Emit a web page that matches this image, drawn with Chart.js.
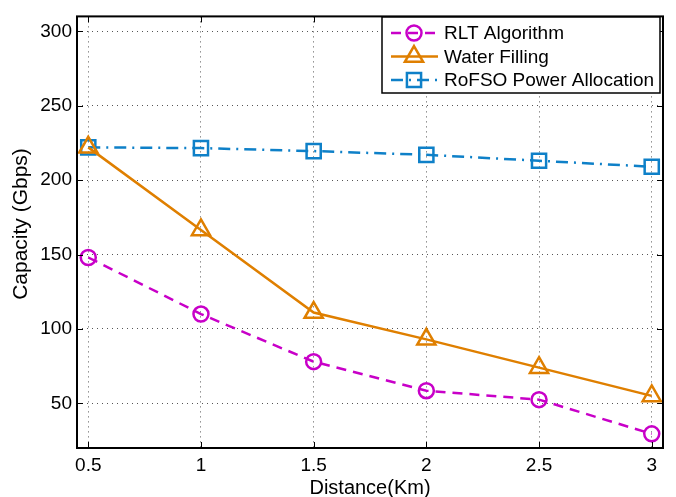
<!DOCTYPE html>
<html>
<head>
<meta charset="utf-8">
<script src="https://cdn.jsdelivr.net/npm/chart.js@4.4.1/dist/chart.umd.min.js"></script>
<style>
  html, body { margin: 0; padding: 0; background: #fff; }
  #wrap { width: 676px; height: 497px; }
</style>
</head>
<body>
<div id="wrap"><canvas id="capChart" width="676" height="497"></canvas></div>
<script>
// distance in km
const distances = [0.5, 1, 1.5, 2, 2.5, 3];
const rltValues = [148, 110, 78, 58.5, 52.5, 29.5];
const waterValues = [222, 166.5, 111, 93, 74, 55];
const rofsoValues = [222, 221.5, 219.5, 217, 213, 209];
const xTicks = [0.5, 1, 1.5, 2, 2.5, 3];
const yTicks = [50, 100, 150, 200, 250, 300];

const FONT = 'Liberation Sans, Arial, Helvetica, sans-serif';

function toPoints(vals) {
    return distances.map((d, i) => ({ x: d, y: vals[i] }));
}

// caja, marcas hacia dentro, titulo Y y leyenda estilo MATLAB
const matlabBox = {
    id: 'matlabBox',
    afterDatasetsDraw(chart) {
        const ctx = chart.ctx;
        const a = chart.chartArea;
        const xs = chart.scales.x, ys = chart.scales.y;
        ctx.save();
        ctx.strokeStyle = '#000';
        ctx.lineWidth = 1;
        xTicks.forEach(t => {
            const px = Math.round(xs.getPixelForValue(t)) + 0.5;
            ctx.beginPath();
            ctx.moveTo(px, a.bottom); ctx.lineTo(px, a.bottom - 6);
            ctx.moveTo(px, a.top); ctx.lineTo(px, a.top + 6);
            ctx.stroke();
        });
        yTicks.forEach(t => {
            const py = Math.round(ys.getPixelForValue(t)) + 0.5;
            ctx.beginPath();
            ctx.moveTo(a.left, py); ctx.lineTo(a.left + 6, py);
            ctx.moveTo(a.right, py); ctx.lineTo(a.right - 6, py);
            ctx.stroke();
        });
        ctx.lineWidth = 2;
        ctx.strokeRect(a.left, a.top, a.right - a.left, a.bottom - a.top);

        // titulo del eje Y
        ctx.save();
        ctx.translate(21, 224);
        ctx.rotate(-Math.PI / 2);
        ctx.fillStyle = '#000';
        ctx.font = '21px ' + FONT;
        ctx.textAlign = 'center';
        ctx.textBaseline = 'middle';
        ctx.fillText('Capacity (Gbps)', 0, 0);
        ctx.restore();

        // leyenda
        const lx = 382, ly = 17, lw = 278, lh = 76;
        ctx.fillStyle = '#fff';
        ctx.fillRect(lx, ly, lw, lh);
        ctx.lineWidth = 1.5;
        ctx.strokeRect(lx, ly, lw, lh);
        chart.data.datasets.forEach((ds, i) => {
            const y = 33 + i * 23.5;
            ctx.save();
            ctx.strokeStyle = ds.borderColor;
            ctx.lineWidth = ds.borderWidth;
            ctx.setLineDash(ds.borderDash || []);
            ctx.beginPath();
            ctx.moveTo(391, y); ctx.lineTo(438, y);
            ctx.stroke();
            ctx.setLineDash([]);
            ctx.fillStyle = 'rgba(0,0,0,0)';
            ctx.strokeStyle = ds.pointBorderColor;
            ctx.lineWidth = ds.pointBorderWidth;
            Chart.helpers.drawPoint(ctx, {
                pointStyle: ds.pointStyle,
                radius: ds.pointRadius,
                borderWidth: ds.pointBorderWidth,
                rotation: 0
            }, 414, y);
            ctx.restore();
            ctx.fillStyle = '#000';
            ctx.font = '19px ' + FONT;
            ctx.textBaseline = 'middle';
            ctx.textAlign = 'left';
            ctx.fillText(ds.label, 444, y + 1);
        });
        ctx.restore();
    }
};

const ctx = document.getElementById('capChart').getContext('2d');
new Chart(ctx, {
    type: 'line',
    data: {
        datasets: [{
            label: 'RLT Algorithm',
            data: toPoints(rltValues),
            borderColor: '#c800c8',
            borderWidth: 2.5,
            borderDash: [10, 7],
            pointStyle: 'circle',
            pointRadius: 7.5,
            pointBorderWidth: 2.5,
            pointBorderColor: '#c800c8',
            pointBackgroundColor: 'rgba(0,0,0,0)',
            fill: false,
            tension: 0
        }, {
            label: 'Water Filling',
            data: toPoints(waterValues),
            borderColor: '#df7f00',
            borderWidth: 2.5,
            pointStyle: 'triangle',
            pointRadius: 10.5,
            pointBorderWidth: 2.5,
            pointBorderColor: '#df7f00',
            pointBackgroundColor: 'rgba(0,0,0,0)',
            fill: false,
            tension: 0
        }, {
            label: 'RoFSO Power Allocation',
            data: toPoints(rofsoValues),
            borderColor: '#0e80c8',
            borderWidth: 2.5,
            borderDash: [12, 6, 2, 6],
            pointStyle: 'rect',
            pointRadius: 10,
            pointBorderWidth: 2.5,
            pointBorderColor: '#0e80c8',
            pointBackgroundColor: 'rgba(0,0,0,0)',
            fill: false,
            tension: 0
        }]
    },
    options: {
        responsive: false,
        animation: false,
        events: [],
        layout: { padding: { left: 0, right: 8, top: 10, bottom: 0 } },
        plugins: {
            legend: { display: false },
            tooltip: { enabled: false }
        },
        scales: {
            x: {
                type: 'linear',
                min: 0.45,
                max: 3.05,
                afterBuildTicks: s => { s.ticks = xTicks.map(v => ({ value: v })); },
                afterFit: s => { s.height = 49; },
                ticks: {
                    color: '#000',
                    font: { family: FONT, size: 19 },
                    padding: 6,
                    maxRotation: 0,
                    callback: v => String(v)
                },
                grid: { color: '#555', drawTicks: false, lineWidth: 1 },
                border: { display: false, dash: [1, 4] },
                title: {
                    display: true,
                    text: 'Distance(Km)',
                    color: '#000',
                    font: { family: FONT, size: 20 },
                    padding: { top: -3, bottom: -3 }
                }
            },
            y: {
                type: 'linear',
                min: 20,
                max: 310,
                afterBuildTicks: s => { s.ticks = yTicks.map(v => ({ value: v })); },
                afterFit: s => { s.width = 77; },
                ticks: {
                    color: '#000',
                    font: { family: FONT, size: 19 },
                    padding: 5
                },
                grid: { color: '#555', drawTicks: false, lineWidth: 1 },
                border: { display: false, dash: [1, 4] },
                title: { display: false }
            }
        }
    },
    plugins: [matlabBox]
});
</script>
</body>
</html>
